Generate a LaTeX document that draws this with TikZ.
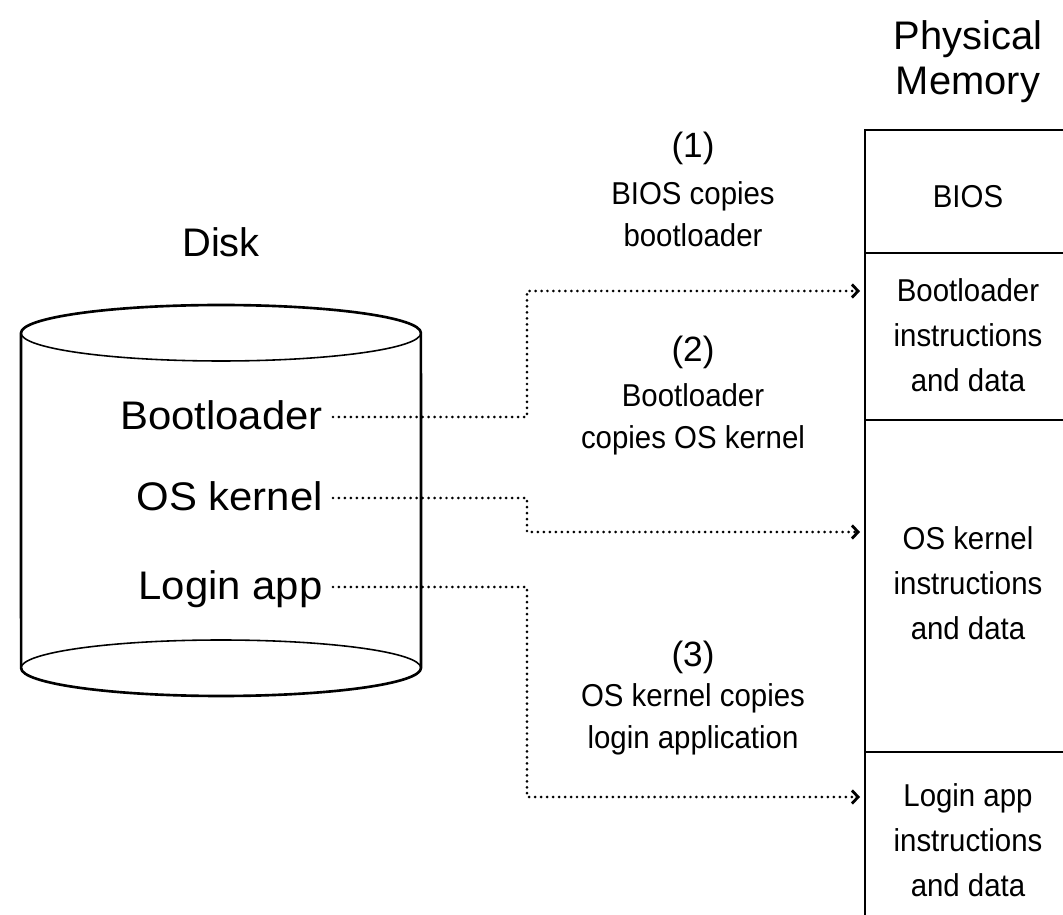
\documentclass[tikz,border=0pt]{standalone}
\usepackage{fontspec}
\setmainfont{Liberation Sans}
\newfontfamily\slimfont[FakeStretch=0.93]{Liberation Sans}
\newfontfamily\widefont[FakeStretch=1.05]{Liberation Sans}
\usetikzlibrary{positioning,calc,arrows.meta}

\begin{document}
\begin{tikzpicture}[x=0.02cm,y=-0.02cm,
    bigtxt/.style={font=\fontsize{22.7}{25.5}\selectfont, align=center},
    disklbl/.style={font=\widefont\fontsize{22.7}{25.5}\selectfont, text height=0.52cm, text depth=0pt, inner xsep=0.2cm, anchor=base east},
    numtxt/.style={font=\fontsize{20}{24}\selectfont},
    midtxt/.style={font=\slimfont\fontsize{18}{24}\selectfont, align=center},
    memtxt/.style={font=\slimfont\fontsize{18}{25.5}\selectfont, align=center},
    link/.style={line width=1.7pt, line cap=round, dash pattern=on 0pt off 3.4pt, -{Straight Barb[length=3.5pt,width=7.5pt,line width=1.6pt]}},
    cell/.style={line width=1.1pt}]
    \useasboundingbox (0,0) rectangle (1063,915);

    % disk
    \node[bigtxt] (disk) at (221,242) {Disk};
    \draw[line width=1.5pt] (21,333) arc[start angle=180, end angle=0, x radius=4cm, y radius=0.56cm]
        -- (421,668) arc[start angle=0, end angle=-180, x radius=4cm, y radius=0.56cm] -- cycle;
    \draw[line width=0.9pt] (21,333) arc[start angle=180, end angle=360, x radius=4cm, y radius=0.56cm];
    \draw[line width=0.9pt] (21,668) arc[start angle=180, end angle=0, x radius=4cm, y radius=0.56cm];
    \node[disklbl] (bl) at (333,430) {Bootloader};
    \node[disklbl] (os) at (333,511) {OS kernel};
    \node[disklbl] (app) at (333,600) {Login app};

    % physical memory
    \node[bigtxt] (physical) at (968,62) {Physical\\Memory};
    \draw[line width=1.5pt] (1070,130) -- (865,130) -- (865,920);
    \draw[cell] (865,253) -- (1070,253);
    \draw[cell] (865,420) -- (1070,420);
    \draw[cell] (865,752) -- (1070,752);
    \node[memtxt] (bios) at (968,197) {BIOS};
    \node[memtxt] (bootmem) at (968,335) {Bootloader\\instructions\\and data};
    \node[memtxt] (osmem) at (968,583) {OS kernel\\instructions\\and data};
    \node[memtxt] (appmem) at (968,840) {Login app\\instructions\\and data};

    % steps
    \node[numtxt] (n1) at (693,148) {(1)};
    \node[midtxt] (d1) at (693,214) {BIOS copies\\bootloader};
    \node[numtxt] (n2) at (693,352) {(2)};
    \node[midtxt] (d2) at (693,419) {Bootloader\\copies OS kernel};
    \node[numtxt] (n3) at (693,657) {(3)};
    \node[midtxt] (d3) at (693,719) {OS kernel copies\\login application};

    \coordinate (bend) at (527,0);
    \coordinate (in1) at (860,291);
    \coordinate (in2) at (860,532);
    \coordinate (in3) at (860,797);
    \draw[link] (bl.east) -| (bend |- in1) -- (in1);
    \draw[link] (os.east) -| (bend |- in2) -- (in2);
    \draw[link] (app.east) -| (bend |- in3) -- (in3);
\end{tikzpicture}
\end{document}
